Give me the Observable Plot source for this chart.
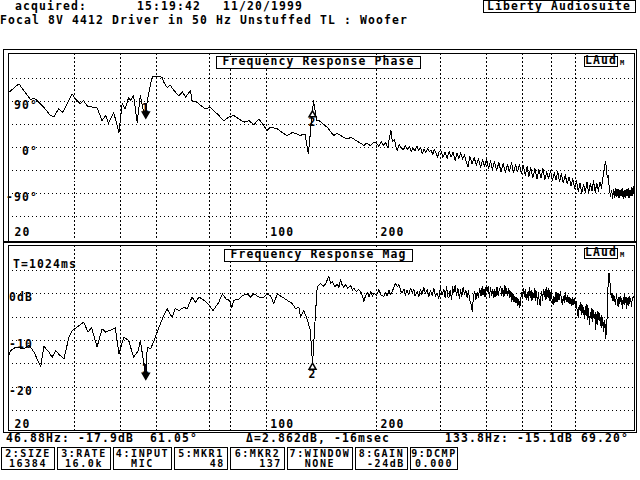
<!DOCTYPE html>
<html><head><meta charset="utf-8">
<script src="https://cdn.jsdelivr.net/npm/d3@7"></script>
<script src="https://cdn.jsdelivr.net/npm/@observablehq/plot@0.6"></script>
<style>
html,body{margin:0;padding:0;background:#fff;}
#root{position:relative;width:640px;height:480px;overflow:hidden;font-family:"DejaVu Sans Mono",monospace;font-weight:bold;color:#000;}
.t{position:absolute;white-space:pre;line-height:1;}
.box{position:absolute;border:1px solid #000;background:#fff;box-sizing:border-box;}
.abs{position:absolute;}
</style></head><body><div id="root"></div>
<script>
// ---------- data ----------
const phaseLow = [[19.7,106],[21.1,124],[22.7,93],[23.2,96],[23.7,91],[24.7,78],[25.7,62],[26.3,60],[27.1,75],[27.7,68],[28.0,72],[29.5,104],[30.1,95],[31.0,85],[31.7,91],[32.5,80],[34.5,77],[35.6,52],[36.4,62],[37.1,47],[38.3,68],[39.6,29],[40.4,85],[41.2,75],[42.1,98],[42.6,91],[43.4,101],[44.4,49],[45.3,101],[46.3,66],[46.9,61],[47.3,91],[48.8,138],[50.4,138],[52.0,137],[52.5,127],[53.6,117],[54.7,121],[55.9,111],[57.7,101],[59.0,108],[60.2,98],[62.1,111],[62.7,91],[64.8,88],[66.1,82],[68.2,75],[70.4,78],[73.5,65],[76.6,52],[79.1,59],[81.6,62],[84.2,55],[87.0,49],[89.7,52],[92.5,44],[95.5,55],[98.5,42],[100.6,33],[102.7,39],[107.1,36],[110.4,29],[113.9,23],[118.2,29],[123.7,23],[127.6,26],[130.3,-13],[133.3,59],[133.8,69],[134.6,91],[137.4,52],[139.6,52],[143,45],[146.8,39],[150,30],[153,23],[156,27],[159.6,23],[163,19],[166.5,16],[170,19],[173.5,16],[177,12],[181,8],[184.8,3],[188,8],[192.8,3],[196,9]];
const phaseHigh = [[200,8],[203,2],[206,11],[209,4],[212,9],[215,-1],[217,18],[219,33],[221,12],[224,15],[226,2],[228,-6],[231,5],[234,-1],[237,-5],[240,3],[243,-4],[246,1],[249,-8],[252,-2],[255,-7],[258,2],[261,-6],[264,-1],[267,-13],[270,-4],[273,-10],[276,-2],[279,-9],[282,-5],[285,-14],[288,-4],[291,-11],[294,-20],[297,-8],[300,-6],[304,-20],[308,-9],[312,-22],[316,-8],[320,-19],[324,-10],[328,-26],[332,-12],[336,-22],[340,-11],[344,-24],[348,-14],[352,-30],[356,-38],[360,-18],[365,-32],[370,-20],[375,-36],[380,-22],[385,-40],[390,-24],[395,-38],[400,-22],[405,-42],[410,-26],[415,-44],[420,-28],[426,-46],[432,-30],[438,-48],[444,-32],[450,-50],[456,-34],[462,-47],[468,-30],[474,-50],[480,-34],[486,-48],[492,-33],[498,-52],[504,-36],[510,-55],[516,-38],[522,-58],[528,-40],[535,-60],[542,-42],[549,-62],[556,-44],[563,-60],[570,-42],[577,-64],[584,-48],[591,-62],[598,-45],[605,-66],[612,-50],[619,-64],[626,-48],[633,-68],[640,-52],[648,-70],[656,-54],[664,-72],[672,-58],[680,-76],[688,-62],[696,-80],[704,-66],[712,-86],[720,-70],[728,-90],[736,-72],[744,-88],[752,-68],[760,-90],[768,-70],[776,-86],[784,-66],[792,-88],[800,-70],[808,-86],[816,-68],[824,-80],[830,-62],[836,-48],[842,-34],[846,-28],[850,-44],[855,-60],[860,-56],[866,-82],[872,-96],[878,-84],[884,-100],[890,-82],[896,-98],[902,-80],[908,-96],[914,-82],[920,-100],[926,-84],[932,-96],[938,-80],[944,-100],[950,-84],[956,-98],[962,-82],[968,-96],[974,-80],[980,-100],[986,-84],[992,-96],[998,-78],[1004,-94],[1011,-76]];
const magLow = [[19.7,-13.6],[20.0,-12.2],[20.7,-11.4],[21.8,-11.8],[22.5,-11],[23.2,-12.5],[24.2,-15.6],[24.7,-11.3],[25.5,-12.5],[26.0,-13.6],[26.6,-12.2],[27.1,-12.9],[28.0,-14],[28.9,-9.3],[29.5,-7.9],[31.7,-6.1],[32.6,-8.2],[33.3,-7.2],[34.5,-11.4],[35.6,-7.5],[36.4,-8.2],[38.3,-7.5],[38.7,-7.3],[39.6,-12.9],[40.8,-9.3],[42.1,-10],[43.4,-13.6],[44.7,-12.2],[45.3,-10],[46.9,-17.9],[47.3,-11.4],[48.3,-11.8],[49.4,-10],[50.9,-7.2],[52.5,-4.6],[53.6,-3.2],[54.2,-3.9],[55.3,-5],[56.4,-3.2],[57.7,-3.6],[59.6,-2.9],[60.8,-3.2],[62.7,-0.7],[64.1,-1.8],[65.5,-0.7],[67.6,-1.4],[69.2,-2.1],[71.6,-3.6],[74.2,-1.8],[75.9,0],[77.6,-1.1],[79.3,-1.4],[80.5,-2.9],[81.6,-1.4],[84.2,-1.1],[86.0,-0.4],[88.7,0],[90.6,-0.7],[92.5,0],[95.5,-0.7],[98.5,-0.7],[100.6,0],[102.7,-0.4],[104.9,-2.1],[107.2,0],[110.6,-0.7],[114.1,-1.4],[117.8,-2.1],[120.3,-3.2],[122.8,-2.9],[124.1,-5],[126.7,-3.6],[129.3,-5.4],[132.0,-7.9],[133.8,-15.1],[136.3,-4.3],[137.8,1.4]];
const magHigh = [[140.7,2.3],[143,1.6],[145.2,2.1],[148.2,3.7],[150,2.2],[151.5,2.6],[154,1.5],[156.3,2.1],[158,1.4],[159.6,3.0],[161,2.0],[162.9,1.4],[165,2.0],[167,1.2],[170,1.8],[172,0.8],[173.5,1.2],[176,0.5],[179,0.9],[182,0.2],[184.8,-1.6],[187,-0.3],[188.8,0.2],[191,-0.6],[193,0.4],[195,-0.5],[197,0.2],[200,-0.4],[203,0.9],[206,-0.3],[209.6,-0.6],[212,0.3],[214,-0.5],[216.3,0.8],[218,-0.2],[221,0.5],[223,1.3],[225.7,2.3],[228,1.5],[230.5,2.0],[233,0.6],[235.3,0.2],[238,1.0],[240,-0.3],[242.6,0.8],[245,-0.2],[248,1.2],[250.3,0.3],[253,1.0],[255,-0.4],[258.4,0.5],[261,-0.6],[264,1.0],[266,-0.2],[269.5,1.3],[272,0.1],[275,0.9],[278,-0.6],[281,0.8],[284,-0.3],[287,1.2],[290,-0.5],[293,0.2],[296,-1.0],[299,1.4],[302,-0.3],[305.7,0.9],[308,-0.8],[311,1.6],[313,-0.5],[315.3,-0.9],[318,0.7],[321,-1.3],[323,1.5],[325.6,0.2],[328,1.8],[331,-0.4],[334,1.1],[337,-1.0],[339.6,0.9],[342,-0.6],[345,1.3],[348,-0.2],[351,0.8],[354,-0.8],[357,0.6],[360,-1.5],[363,-2.2],[365.4,-3.8],[368,-0.9],[371,0.6],[374,-1.2],[377,0.3],[380,-0.7],[383,1.2],[386,-0.5],[389,1.5],[391,-0.3],[393.5,1.0],[396,-0.6],[399,1.8],[401.7,0.4],[404,1.6],[407,-0.8],[410,1.3],[413,-0.4],[416,0.9],[418.7,-0.9],[421,1.0],[424,-0.7],[427,1.4],[430,-0.5],[433,0.9],[437.4,1.6],[440,-0.3],[443,1.2],[446,-0.6],[449,1.8],[452,0.0],[454,1.1],[456.8,-0.4],[460,1.2],[463,-0.9],[466,0.6],[469,-1.6],[472,0.2],[475,-1.8],[478,-0.5],[481,-2.0],[484,-0.8],[487,-2.6],[490,-1.2],[493,-2.9],[495,-1.8],[498,0.3],[501,-1.0],[504,1.2],[507,-0.6],[510,0.9],[513,-1.3],[516.6,0.4],[520,-1.5],[523,1.3],[526,-0.8],[529,0.7],[532,-1.6],[535,0.4],[539,-0.9],[542,1.2],[545,-1.4],[548,0.5],[551,-2.2],[554,0.3],[557,-1.6],[560,-2.5],[562.7,-0.6],[566,0.4],[569,-1.5],[572,1.0],[575,-0.7],[578,0.9],[581,-1.3],[584,1.4],[586,0.2],[589,-0.9],[592,1.1],[596,-1.6],[600,0.5],[604,-1.2],[608,-2.3],[611,-0.6],[615,-1.9],[619,0.4],[623,-1.7],[627,0.2],[631,-1.3],[636.4,0.5],[640,-1.1],[644,-2.4],[648,-0.5],[652,-1.8],[656,0.2],[660,-1.6],[664.5,-0.4],[668,-2.0],[672,-0.7],[676,-2.2],[680,-1.0],[684,-2.6],[688,-0.8],[692.6,-2.3],[696,-1.1],[700,-3.0],[704,-1.6],[708,-4.2],[712,-5.0],[716,-2.4],[720,-3.6],[724,-1.9],[728,-4.5],[732,-2.6],[736,-3.4],[740,-5.3],[744,-2.8],[748,-4.6],[752,-2.3],[756,-5.5],[760,-3.2],[764,-6.6],[768,-3.9],[772,-5.4],[776,-3.0],[780,-6.0],[784,-3.6],[788,-5.2],[792,-4.0],[795,-7.6],[798,-4.4],[802,-6.5],[806,-3.8],[810,-5.6],[814,-4.2],[818,-6.8],[822,-4.7],[826,-7.2],[830,-5.0],[834,-8.1],[838,-5.6],[842,-7.0],[845,-9.6],[848,-6.2],[851,-8.8],[854,-4.0],[857,0.5],[860,2.4],[864,4.4],[868,2.8],[872,1.5],[876,-0.8],[880,0.2],[884,-1.4],[888,-0.4],[892,-1.8],[896,-0.6],[900,-2.3],[905,-0.2],[910,-1.5],[915,-2.8],[920,-0.8],[925,-2.0],[930,-0.5],[935,-1.6],[940,-3.1],[945,-0.7],[950,-2.4],[954,0.0],[958,-1.9],[962,-0.8],[966,-3.2],[970,-1.0],[975,-2.6],[980,-0.6],[985,-2.0],[990,-0.9],[995,-2.7],[1000,-1.1],[1011,-0.4]];

const xGridHz = [30,40,50,70,80,100,200,300,400,500,600,700];
const freqLabels = [[20,"20"],[100,"100"],[200,"200"]];
const phaseGrid = [135,90,45,0,-45,-90,-135];
const phaseLabels = [[90,"90°"],[0,"0°"],[-90,"-90°"]];
const magGrid = [5,0,-5,-10,-15,-20,-25];
const magLabels = [[0,"0dB"],[-10,"-10"],[-20,"-20"]];
const marker1 = {hz:46.88, db:-17.9, deg:61.05, label:"1"};
const marker2 = {hz:133.8, db:-15.1, deg:69.20, label:"2"};
const headerTexts = ["acquired:", "15:19:42", "11/20/1999", "Liberty Audiosuite", "Focal 8V 4412 Driver in 50 Hz Unstuffed TL : Woofer"];
const statusTexts = ["46.88Hz: -17.9dB  61.05°", "Δ=2.862dB, -16msec", "133.8Hz: -15.1dB 69.20°"];
const buttons = [["2:SIZE","16384"],["3:RATE","16.0k"],["4:INPUT","MIC"],["5:MKR1","48"],["6:MKR2","137"],["7:WINDOW","NONE"],["8:GAIN","-24dB"],["9:DCMP","0.000"]];

// ---------- layout helpers ----------
const root = document.getElementById("root");
const FS = 11.4;
function txt(x, base, s, o = {}) {
  const fs = o.fs || FS;
  const d = document.createElement("div");
  d.className = "t";
  d.textContent = s;
  d.style.fontSize = fs + "px";
  d.style.letterSpacing = (o.ls ?? fs * 0.1) + "px";
  d.style.top = (base - 0.846 * fs) + "px";
  if (o.w) { d.style.width = o.w + "px"; d.style.textAlign = o.align || "left"; }
  d.style.left = x + "px";
  if (o.z) d.style.zIndex = o.z;
  root.appendChild(d);
  return d;
}
function rect(x, y, w, h, o = {}) {
  const d = document.createElement("div");
  d.className = o.fill ? "abs" : "box";
  d.style.left = x + "px"; d.style.top = y + "px";
  d.style.width = w + "px"; d.style.height = h + "px";
  if (o.fill) d.style.background = o.fill;
  if (o.z) d.style.zIndex = o.z;
  root.appendChild(d);
  return d;
}

// ---------- header ----------
txt(15, 10.5, headerTexts[0]);
txt(137, 10.5, headerTexts[1]);
txt(223, 10.5, headerTexts[2]);
rect(483, 0, 153, 13);
txt(487, 10.5, headerTexts[3], {z: 2});
txt(0, 25, headerTexts[4]);

// ---------- outer frame ----------
rect(3, 49, 634, 384);
rect(3, 241, 634, 2, {fill: "#000"});

// ---------- panels ----------
const xDomain = [19.7, 1011];
const textOpts = {fontFamily: "DejaVu Sans Mono", fontWeight: "bold", fontSize: FS, fill: "black", lineAnchor: "bottom"};

function markerMarks(yKey) {
  return [
    Plot.ruleX([marker1], {x: "hz", y1: yKey, y2: yKey, stroke: "black", dy: -5}),
    Plot.dot([marker1], {x: "hz", y: yKey, symbol: "triangle", rotate: 180, r: 2.6, fill: "black", stroke: "black", dy: -2}),
    Plot.text([marker1], {...textOpts, x: "hz", y: yKey, text: "label", dy: -4, textAnchor: "middle"}),
    Plot.dot([marker2], {x: "hz", y: yKey, symbol: "triangle", r: 2.6, fill: "white", stroke: "black", dy: 3}),
    Plot.text([marker2], {...textOpts, x: "hz", y: yKey, text: "label", dy: 14, textAnchor: "middle"})
  ];
}

function panel({top, height, yDomain, data, grid, labels, labelDx, labelAlign, xLabDy, marks = []}) {
  const p = Plot.plot({
    width: 627, height,
    marginTop: 0.5, marginBottom: 0.5, marginLeft: 0.5, marginRight: 0.5,
    x: {type: "log", domain: xDomain, axis: null},
    y: {domain: yDomain, axis: null},
    style: {background: "transparent", overflow: "visible", letterSpacing: "1.14px"},
    marks: [
      Plot.ruleX(xGridHz, {stroke: "black", strokeDasharray: "2,2", shapeRendering: "crispEdges"}),
      Plot.ruleY(grid, {stroke: "black", strokeDasharray: "1,3", shapeRendering: "crispEdges"}),
      Plot.text(labels, {...textOpts, frameAnchor: "left", y: d => d[0], text: d => d[1], textAnchor: labelAlign, dx: labelDx, dy: 7.5}),
      Plot.text(freqLabels, {...textOpts, frameAnchor: "bottom", x: d => d[0], text: d => d[1], textAnchor: "start", dx: 4, dy: xLabDy}),
      Plot.line(data, {x: d => d[0], y: d => d[1], stroke: "black", strokeWidth: 1, shapeRendering: "crispEdges"}),
      ...marks,
      Plot.frame({stroke: "black", shapeRendering: "crispEdges"})
    ]
  });
  p.style.position = "absolute";
  p.style.left = "7px";
  p.style.top = top + "px";
  root.appendChild(p);
  return p;
}

const phaseData = phaseLow.concat(phaseHigh);
const magData = magLow.concat(magHigh);

panel({top: 52, height: 189, yDomain: [-183.5, 184.3], data: phaseData, grid: phaseGrid, labels: phaseLabels,
  labelDx: 30, labelAlign: "end", xLabDy: -5.5, marks: markerMarks("deg")});
panel({top: 244, height: 186, yDomain: [-29.19, 10.46], data: magData, grid: magGrid, labels: magLabels,
  labelDx: 25, labelAlign: "end", xLabDy: -2.5, marks: markerMarks("db")});

// panel titles
rect(216, 56, 205, 13, {z: 3});
txt(216, 66, "Frequency Response Phase", {w: 205, align: "center", z: 4});
rect(224, 249, 189, 13, {z: 3});
txt(224, 259, "Frequency Response Mag", {w: 189, align: "center", z: 4});
rect(584, 56, 34, 11, {z: 3});
txt(585, 65, "LAud", {z: 4});
txt(620, 66, "M", {fs: 7, z: 4});
rect(584, 248, 34, 11, {z: 3});
txt(585, 257, "LAud", {z: 4});
txt(620, 258, "M", {fs: 7, z: 4});
txt(13, 268.5, "T=1024ms", {z: 4});

// ---------- status ----------
txt(6, 443, statusTexts[0]);
txt(246, 443, statusTexts[1]);
txt(445, 443, statusTexts[2]);

// ---------- buttons ----------
const bx = [[1,55],[57,111],[113,172],[174,228],[230,285],[287,353],[355,408],[410,458]];
const valAlign = ["center","center","center","right","right","center","right","center"];
buttons.forEach((b, i) => {
  const [l, r] = bx[i];
  rect(l, 447, r - l, 23);
  txt(l + 1, 457, b[0], {w: r - l - 2, align: "center", fs: 10, ls: 1.6});
  txt(l + 3, 467.5, b[1], {w: r - l - 6, align: valAlign[i], fs: 10, ls: 1.6});
});
</script></body></html>
